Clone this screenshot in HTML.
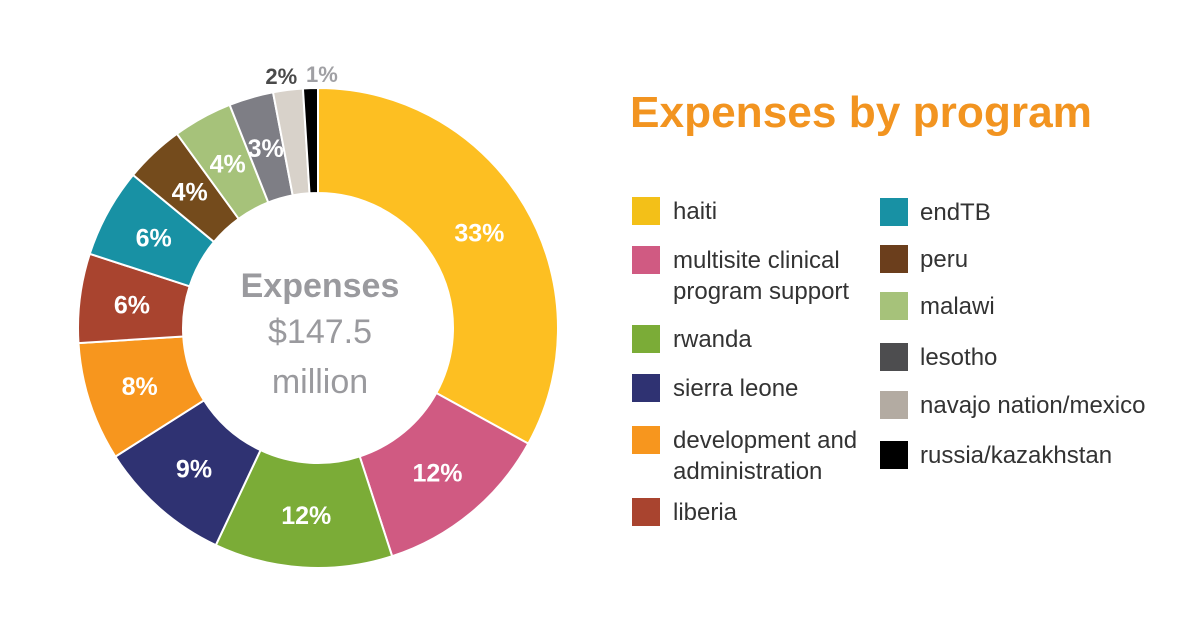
<!DOCTYPE html>
<html><head><meta charset="utf-8"><style>
body{margin:0;background:#fff;width:1200px;height:632px;overflow:hidden;font-family:"Liberation Sans",sans-serif}
</style></head><body>
<svg id="chart" width="1200" height="632" viewBox="0 0 1200 632" xmlns="http://www.w3.org/2000/svg">
<g id="slices"></g>
<g id="labels"></g>
<text x="320" y="297" text-anchor="middle" font-size="34" font-weight="bold" fill="#9a9a9e">Expenses</text>
<text x="320" y="343" text-anchor="middle" font-size="34" fill="#9a9a9e">$147.5</text>
<text x="320" y="393" text-anchor="middle" font-size="34" fill="#9a9a9e">million</text>
<text x="630" y="127" font-size="44" font-weight="bold" fill="#f29420" textLength="462" lengthAdjust="spacingAndGlyphs">Expenses by program</text>
<g id="legend"></g>
</svg>
<script>
const categories=["haiti","multisite clinical program support","rwanda","sierra leone","development and administration","liberia","endTB","peru","malawi","lesotho","navajo nation/mexico","russia/kazakhstan"];
const values=[33,12,12,9,8,6,6,4,4,3,2,1];
const colors=["#fdbf22","#d05a82","#7bac37","#2f3272","#f7961e","#a9442f","#1891a4","#744b1c","#a6c27a","#7e7e85","#d8d2ca","#000000"];
const legendColors=["#f3c018","#d05a82","#7bac37","#2f3272","#f7961e","#a9442f","#1891a4","#6b3e1c","#a6c27a","#4d4d4f","#b3aba2","#000000"];
const legendLines=[["haiti"],["multisite clinical","program support"],["rwanda"],["sierra leone"],["development and","administration"],["liberia"],["endTB"],["peru"],["malawi"],["lesotho"],["navajo nation/mexico"],["russia/kazakhstan"]];
const legendY=[211,260,339,388,440,512,212,259,306,357,405,455];
const NS="http://www.w3.org/2000/svg";
const cx=318,cy=328,R=240,r=135;
const total=values.reduce((a,b)=>a+b,0);
function pt(a,rad){return [cx+rad*Math.sin(a),cy-rad*Math.cos(a)];}
const sg=document.getElementById('slices'),lg=document.getElementById('labels');
let acc=0;
values.forEach((v,i)=>{
  const a0=acc/total*2*Math.PI; acc+=v; const a1=acc/total*2*Math.PI;
  const large=(a1-a0)>Math.PI?1:0;
  const p0=pt(a0,R),p1=pt(a1,R),q1=pt(a1,r),q0=pt(a0,r);
  const p=document.createElementNS(NS,'path');
  p.setAttribute('d',`M${p0}A${R},${R} 0 ${large} 1 ${p1}L${q1}A${r},${r} 0 ${large} 0 ${q0}Z`);
  p.setAttribute('fill',colors[i]);p.setAttribute('stroke','#fff');p.setAttribute('stroke-width','2');
  
  
  sg.appendChild(p);
  const am=(a0+a1)/2;
  const outside=v<=2;
  const c=pt(am,outside?R+14:(R+r)/2);
  const t=document.createElementNS(NS,'text');
  let x=c[0],anchor='middle';
  if(outside){ if(v===2){x=c[0]+11;anchor='end';} else {x=c[0]-4;anchor='start';} }
  t.setAttribute('x',x);t.setAttribute('y',c[1]+(outside?8:9));
  t.setAttribute('text-anchor',anchor);t.setAttribute('font-size',outside?'22':'25');t.setAttribute('font-weight','bold');
  t.setAttribute('fill',outside?(v===2?'#4a4a4a':'#a0a0a4'):'#fff');
  t.textContent=v+'%';
  
  
  lg.appendChild(t);
});
const leg=document.getElementById('legend');
categories.forEach((c,i)=>{
  const col=i<6?0:1;
  const sx=col?880:632, tx=col?920:673, y=legendY[i];
  const rect=document.createElementNS(NS,'rect');
  rect.setAttribute('x',sx);rect.setAttribute('y',y-14);rect.setAttribute('width',28);rect.setAttribute('height',28);
  rect.setAttribute('fill',legendColors[i]);
  
  
  leg.appendChild(rect);
  legendLines[i].forEach((line,j)=>{
    const t=document.createElementNS(NS,'text');
    t.setAttribute('x',tx);t.setAttribute('y',y+8+j*31);t.setAttribute('font-size','24');t.setAttribute('fill','#333');
    t.textContent=line;
    
    
    leg.appendChild(t);
  });
});
</script>
</body></html>
